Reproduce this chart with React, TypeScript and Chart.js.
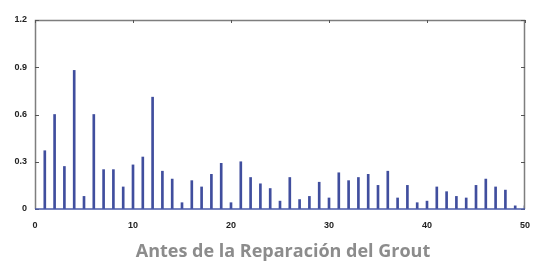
import React, { useEffect, useRef } from "react";
import { Chart, registerables } from "chart.js";

Chart.register(...registerables);

const positions = [
  1, 2, 3, 4, 5, 6, 7, 8, 9, 10, 11, 12, 13, 14, 15, 16, 17, 18, 19, 20, 21, 22, 23, 24, 25,
  26, 27, 28, 29, 30, 31, 32, 33, 34, 35, 36, 37, 38, 39, 40, 41, 42, 43, 44, 45, 46, 47, 48, 49, 50,
];
const amplitudes = [
  0.37, 0.6, 0.27, 0.88, 0.08, 0.6, 0.25, 0.25, 0.14, 0.28, 0.33, 0.71, 0.24, 0.19, 0.04,
  0.18, 0.14, 0.22, 0.29, 0.04, 0.3, 0.2, 0.16, 0.13, 0.05, 0.2, 0.06, 0.08, 0.17, 0.07,
  0.23, 0.18, 0.2, 0.22, 0.15, 0.24, 0.07, 0.15, 0.04, 0.05, 0.14, 0.11, 0.08, 0.07, 0.15,
  0.19, 0.14, 0.12, 0.02, 0.02,
];
const yTickValues = [0, 0.3, 0.6, 0.9, 1.2];
const yTickLabels = ["0", "0.3", "0.6", "0.9", "1.2"];
const xTickValues = [0, 10, 20, 30, 40, 50];
const xTickLabels = ["0", "10", "20", "30", "40", "50"];
const caption = "Antes de la Reparación del Grout";

const W = 534;
const H = 262;

const framePlugin = {
  id: "stemFrame",
  afterDraw(chart: any) {
    const ctx = chart.ctx;
    const area = chart.chartArea;
    const sx = chart.scales.x;
    const sy = chart.scales.y;
    if (!area || !sx || !sy) return;
    const left = area.left;
    const right = area.right;
    const top = area.top;
    const bottom = area.bottom;
    ctx.save();
    ctx.lineWidth = 1.5;
    ctx.strokeStyle = "#7e7e7e";
    ctx.beginPath();
    ctx.moveTo(left + 0.5, bottom);
    ctx.lineTo(left + 0.5, top + 0.5);
    ctx.lineTo(right - 0.5, top + 0.5);
    ctx.lineTo(right - 0.5, bottom);
    ctx.stroke();
    ctx.lineWidth = 1;
    ctx.strokeStyle = "#555555";
    for (const v of yTickValues) {
      const y = Math.round(sy.getPixelForValue(v)) + 0.5;
      ctx.beginPath();
      ctx.moveTo(left, y);
      ctx.lineTo(left + 4, y);
      ctx.moveTo(right, y);
      ctx.lineTo(right - 4, y);
      ctx.stroke();
    }
    for (const v of xTickValues) {
      const x = Math.round(sx.getPixelForValue(v)) + 0.5;
      ctx.beginPath();
      ctx.moveTo(x, top);
      ctx.lineTo(x, top + 3);
      ctx.stroke();
    }
    ctx.strokeStyle = "#4a5aa8";
    ctx.lineWidth = 1.5;
    const y0 = sy.getPixelForValue(0);
    ctx.beginPath();
    ctx.moveTo(left, y0);
    ctx.lineTo(right, y0);
    ctx.stroke();
    ctx.restore();
  },
};

export default function App() {
  const ref = useRef<HTMLCanvasElement | null>(null);

  useEffect(() => {
    document.body.style.margin = "0";
    const canvas = ref.current;
    if (!canvas) return;
    const chart = new Chart(canvas, {
      type: "bar",
      data: {
        datasets: [
          {
            data: positions.map((x, i) => ({ x, y: amplitudes[i] })),
            backgroundColor: "#404e9e",
            borderWidth: 0,
            barThickness: 2,
          } as any,
        ],
      },
      options: {
        animation: false,
        responsive: false,
        devicePixelRatio: 1,
        layout: { padding: { top: 20, right: 9, left: 0, bottom: 0 } },
        plugins: { legend: { display: false }, tooltip: { enabled: false }, title: { display: false } },
        scales: {
          x: {
            type: "linear",
            min: 0,
            max: 50,
            offset: false,
            grid: { display: false, drawTicks: false },
            border: { display: false },
            afterBuildTicks: (s: any) => {
              s.ticks = xTickValues.map((value) => ({ value }));
            },
            afterFit: (s: any) => {
              s.height = H - 209;
              s.paddingLeft = 0;
              s.paddingRight = 0;
            },
            ticks: {
              autoSkip: false,
              maxRotation: 0,
              padding: 11,
              color: "#222222",
              font: { family: "Liberation Sans", size: 9, weight: "bold" },
              callback: (v: any) => xTickLabels[xTickValues.indexOf(Number(v))] ?? "",
            },
          },
          y: {
            min: 0,
            max: 1.2,
            grid: { display: false, drawTicks: false },
            border: { display: false },
            afterBuildTicks: (s: any) => {
              s.ticks = yTickValues.map((value) => ({ value }));
            },
            afterFit: (s: any) => {
              s.width = 35;
              s.paddingTop = 0;
              s.paddingBottom = 0;
            },
            ticks: {
              autoSkip: false,
              padding: 8,
              color: "#222222",
              font: { family: "Liberation Sans", size: 9, weight: "bold" },
              callback: (v: any) => {
                const idx = yTickValues.findIndex((t) => Math.abs(t - Number(v)) < 1e-9);
                return idx >= 0 ? yTickLabels[idx] : "";
              },
            },
          },
        },
      },
      plugins: [framePlugin as any],
    });
    return () => chart.destroy();
  }, []);

  return (
    <div style={{ position: "relative", width: W, height: H, background: "#fff" }}>
      <canvas ref={ref} width={W} height={H} style={{ width: W, height: H, display: "block" }} />
      <div
        style={{
          position: "absolute",
          left: 0,
          width: 566,
          top: 238,
          textAlign: "center",
          fontFamily: "'Open Sans', sans-serif",
          fontWeight: 700,
          fontSize: 18,
          lineHeight: "normal",
          color: "#8c8c8c",
          whiteSpace: "nowrap",
        }}
      >
        {caption}
      </div>
    </div>
  );
}
